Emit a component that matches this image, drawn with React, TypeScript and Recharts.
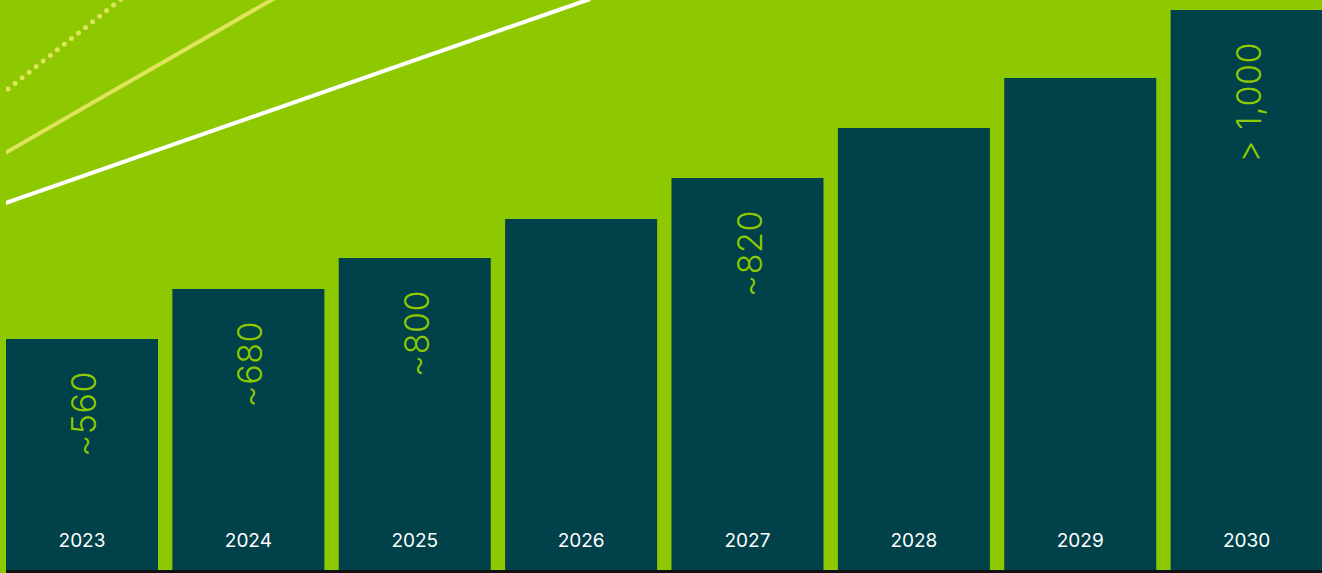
import { BarChart, Bar, XAxis, YAxis, LabelList } from 'recharts';

const years = ['2023', '2024', '2025', '2026', '2027', '2028', '2029', '2030'];
// bar heights are illustrative (index units)
const heights = [231, 281, 312, 351, 392, 442, 492, 560];
const valueLabels = ['~560', '~680', '~800', '', '~820', '', '', '> 1,000'];

const GREEN = '#8dc800';
const TEAL = '#00414a';

const chartData = years.map((year, i) => ({
  year,
  height: heights[i],
  label: valueLabels[i],
}));

const ValueLabel = (props: any) => {
  const { x, y, width, value } = props;
  if (!value) return null;
  const px = x + width / 2 + 14;
  const py = y + 32;
  return (
    <text
      x={px}
      y={py}
      transform={`rotate(-90, ${px}, ${py})`}
      textAnchor="end"
      fill={GREEN}
      fontSize={34}
      fontWeight={350}
      letterSpacing={0.5}
      fontFamily="Inter, 'Open Sans', sans-serif"
    >
      {value}
    </text>
  );
};

const YearLabel = (props: any) => {
  const { x, y, width, height, value } = props;
  return (
    <text
      x={x + width / 2}
      y={y + height - 23}
      textAnchor="middle"
      fill="#ffffff"
      fontSize={19}
      fontFamily="Inter, 'Open Sans', sans-serif"
    >
      {value}
    </text>
  );
};

export default function App() {
  return (
    <div style={{ position: 'relative', width: 1322, height: 573, overflow: 'hidden', background: GREEN }}>
      <style>{'body { margin: 0; }'}</style>
      {/* decorative trend strokes */}
      <svg width={1322} height={573} style={{ position: 'absolute', left: 0, top: 0 }}>
        <defs>
          <clipPath id="deco">
            <rect x={6} y={0} width={1316} height={573} />
          </clipPath>
        </defs>
        <g clipPath="url(#deco)">
          <line x1={0} y1={205} x2={590} y2={-1} stroke="#ffffff" strokeWidth={4} />
          <line x1={0} y1={156} x2={275} y2={-2} stroke="#dfe45c" strokeWidth={4} />
          <line x1={8} y1={89} x2={125} y2={-4} stroke="#dfe45c" strokeWidth={5} strokeLinecap="round" strokeDasharray="0 9" />
        </g>
      </svg>
      <div style={{ position: 'absolute', left: -1, top: 0 }}>
        <BarChart width={1331} height={570} data={chartData} margin={{ top: 0, right: 0, left: 0, bottom: 0 }}>
          <XAxis dataKey="year" hide />
          <YAxis hide domain={[0, 570]} />
          <Bar dataKey="height" fill={TEAL} barSize={152} isAnimationActive={false}>
            <LabelList dataKey="label" content={ValueLabel} />
            <LabelList dataKey="year" content={YearLabel} />
          </Bar>
        </BarChart>
      </div>
      <div style={{ position: 'absolute', left: 6, top: 570, width: 1316, height: 3, background: '#111111' }} />
    </div>
  );
}
